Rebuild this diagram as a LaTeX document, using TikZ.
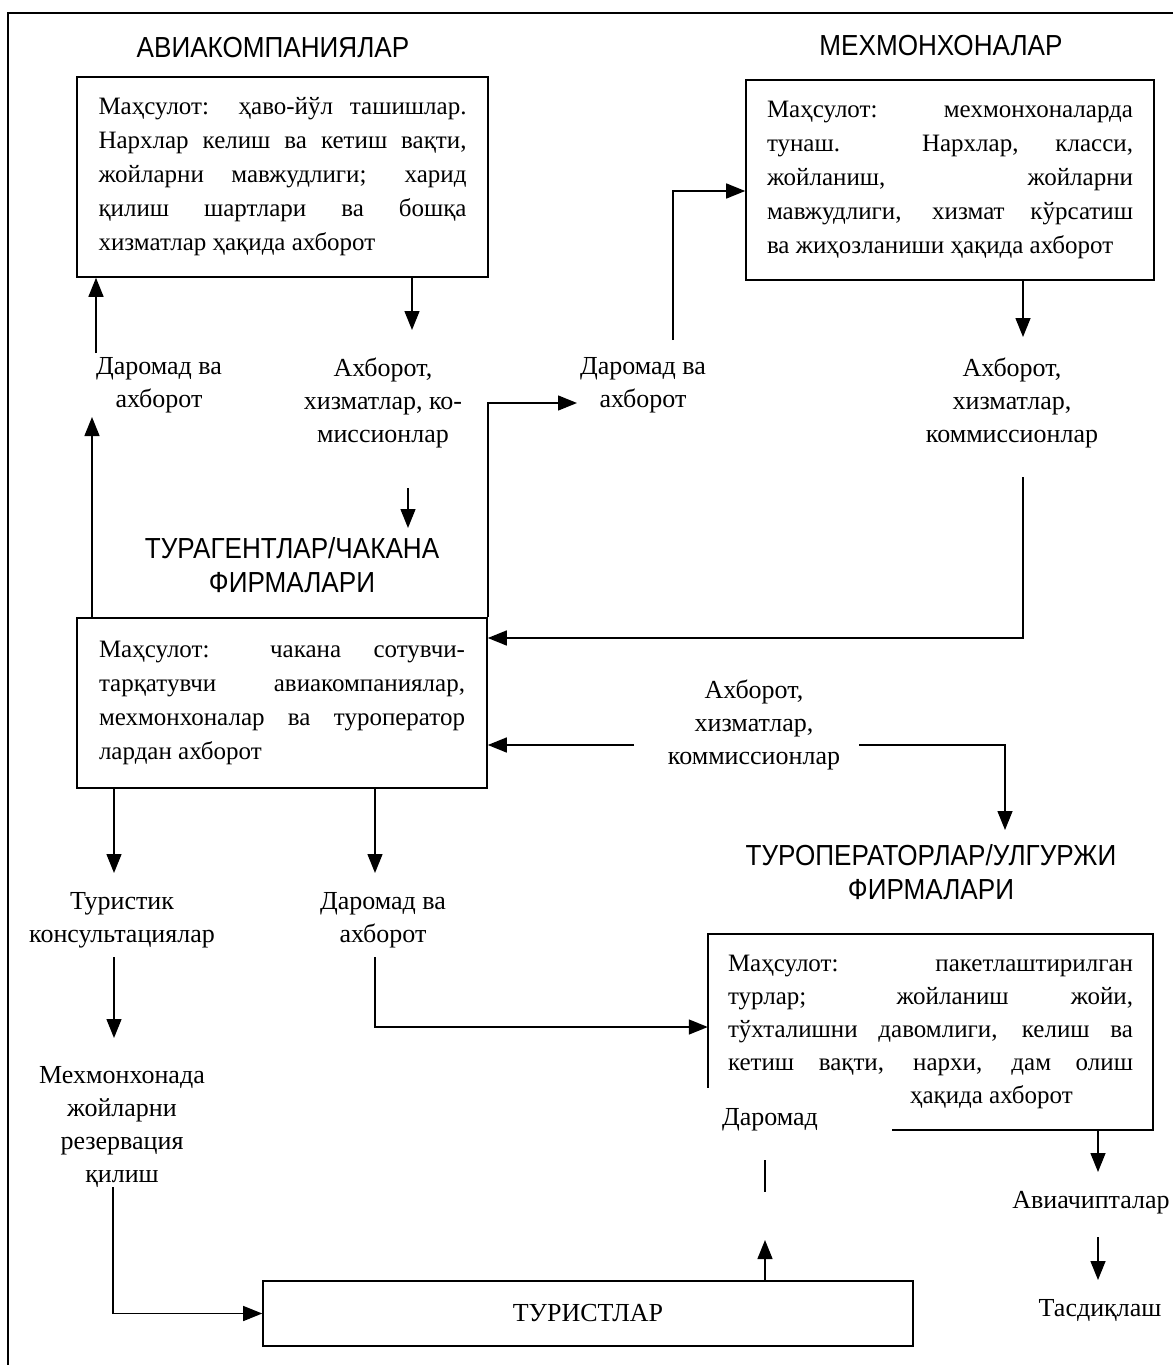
\documentclass[tikz,border=0pt]{standalone}
\usepackage{fontspec}
\setmainfont{Liberation Serif}
\newfontfamily\hfont{Liberation Sans}[FakeStretch=0.9]
\usetikzlibrary{arrows.meta}
\tikzset{
  bline/.style={line width=1.6pt},
  arr/.style={line width=1.4pt, -{Triangle[length=19pt,width=15pt]}},
  pln/.style={line width=1.4pt},
  boxn/.style={draw, bline, align=justify, inner ysep=0pt,
    font=\fontsize{25}{34}\selectfont},
  lbl/.style={align=center, inner sep=0pt, font=\fontsize{26}{33}\selectfont},
  ttl/.style={align=center, inner sep=0pt, font=\hfont\fontsize{29}{34}\selectfont},
}
\begin{document}
\begin{tikzpicture}[x=1pt,y=-1pt]
\useasboundingbox (0,0) rectangle (1173,1365);
% outer frame (top and left)
\coordinate (fTL) at (8,13);
\coordinate (fTR) at (1173,13);
\coordinate (fBL) at (8,1365);
\draw[line width=2pt] (fTR) -- (fTL) -- (fBL);

% titles
\node[ttl] (tAv) at (273,48) {АВИАКОМПАНИЯЛАР};
\node[ttl] (tMe) at (941,46) {МЕХМОНХОНАЛАР};
\node[ttl] (tTa) at (292,565) {ТУРАГЕНТЛАР/ЧАКАНА\\ФИРМАЛАРИ};
\node[ttl] (tTo) at (931,872) {ТУРОПЕРАТОРЛАР/УЛГУРЖИ\\ФИРМАЛАРИ};

% boxes
\node[boxn, text width=368pt, inner xsep=21.5pt, minimum height=200pt] (box1) at (282.5,177)
 {Маҳсулот: ҳаво-йўл ташишлар.\linebreak Нархлар келиш ва кетиш вақти,\linebreak жойларни мавжудлиги; харид\linebreak қилиш шартлари ва бошқа\linebreak хизматлар ҳақида ахборот};
\node[boxn, text width=366pt, inner xsep=21pt, minimum height=200pt] (box2) at (950,180)
 {Маҳсулот: мехмонхоналарда\linebreak тунаш. Нархлар, класси,\linebreak жойланиш, жойларни\linebreak мавжудлиги, хизмат кўрсатиш\linebreak ва жиҳозланиши ҳақида ахборот};
\node[boxn, text width=366pt, inner xsep=22pt, minimum height=170pt] (box3) at (282,703)
 {Маҳсулот: чакана сотувчи-\linebreak тарқатувчи авиакомпаниялар,\linebreak мехмонхоналар ва туроператор\linebreak лардан ахборот};
\node[align=justify, inner ysep=0pt, text width=405pt, inner xsep=20pt, minimum height=196pt,
  font=\fontsize{25}{33}\selectfont] (box4) at (930.5,1032)
 {Маҳсулот: пакетлаштирилган\linebreak турлар; жойланиш жойи,\linebreak тўхталишни давомлиги, келиш ва\linebreak кетиш вақти, нархи, дам олиш\linebreak \hspace*{182pt}ҳақида ахборот};
\node[draw, bline, minimum width=650pt, minimum height=65pt, inner sep=0pt,
  font=\fontsize{26}{30}\selectfont] (box5) at (588,1313.5) {ТУРИСТЛАР};

% partial border of box4 (bottom-left corner is hidden)
\coordinate (c4a) at (892,0);
\coordinate (c4b) at (0,1088);
\draw[bline] (box4.south west -| c4a) -- (box4.south east) -- (box4.north east)
  -- (box4.north west) -- (box4.west |- c4b);

% labels
\node[lbl] (L1) at (159,385) {Даромад ва\\ахборот};
\node[lbl] (L2) at (383,403) {Ахборот,\\хизматлар, ко-\\миссионлар};
\node[lbl] (L3) at (643,385) {Даромад ва\\ахборот};
\node[lbl] (L4) at (1012,403) {Ахборот,\\хизматлар,\\коммиссионлар};
\node[lbl] (L5) at (754,725) {Ахборот,\\хизматлар,\\коммиссионлар};
\node[lbl] (L6) at (122,920) {Туристик\\консультациялар};
\node[lbl] (L7) at (383,920) {Даромад ва\\ахборот};
\node[lbl] (L8) at (122,1127) {Мехмонхонада\\жойларни\\резервация\\қилиш};
\node[lbl] (L9) at (770,1120) {Даромад};
\node[lbl] (L10) at (1091,1203) {Авиачипталар};
\node[lbl] (L11) at (1100,1310) {Тасдиқлаш};

% connectors
\coordinate (a1) at (412,330);
\draw[arr] (a1 |- box1.south) -- (a1);
\coordinate (a2) at (96,353);
\draw[arr] (a2) -- (a2 |- box1.south);
\coordinate (a3) at (92,417);
\draw[arr] (a3 |- box3.north) -- (a3);
\coordinate (a4s) at (408,488);
\coordinate (a4e) at (408,528);
\draw[arr] (a4s) -- (a4e);
\coordinate (a5) at (577,403);
\draw[arr] (box3.north east) |- (a5);
\coordinate (a6) at (673,340);
\coordinate (a6b) at (0,191);
\draw[arr] (a6) |- (box2.west |- a6b);
\coordinate (a7) at (1023,337);
\draw[arr] (a7 |- box2.south) -- (a7);
\coordinate (a8) at (1023,477);
\coordinate (a8b) at (0,638);
\draw[arr] (a8) |- (box3.east |- a8b);
\coordinate (a9) at (634,745);
\draw[arr] (a9) -- (box3.east |- a9);
\coordinate (a10) at (859,745);
\coordinate (a10e) at (1005,830);
\draw[arr] (a10) -| (a10e);
\coordinate (a11) at (114,873);
\draw[arr] (a11 |- box3.south) -- (a11);
\coordinate (a12) at (375,873);
\draw[arr] (a12 |- box3.south) -- (a12);
\coordinate (a13s) at (114,957);
\coordinate (a13e) at (114,1038);
\draw[arr] (a13s) -- (a13e);
\coordinate (a14) at (375,957);
\coordinate (a14b) at (0,1027);
\draw[arr] (a14) |- (box4.west |- a14b);
\coordinate (a15) at (113,1187);
\draw[arr] (a15) |- (box5.west);
\coordinate (a16) at (765,1240);
\draw[arr] (a16 |- box5.north) -- (a16);
\coordinate (a17s) at (765,1160);
\coordinate (a17e) at (765,1192);
\draw[pln] (a17s) -- (a17e);
\coordinate (a18) at (1098,1172);
\draw[arr] (a18 |- box4.south) -- (a18);
\coordinate (a19s) at (1098,1237);
\coordinate (a19e) at (1098,1280);
\draw[arr] (a19s) -- (a19e);
\end{tikzpicture}
\end{document}
